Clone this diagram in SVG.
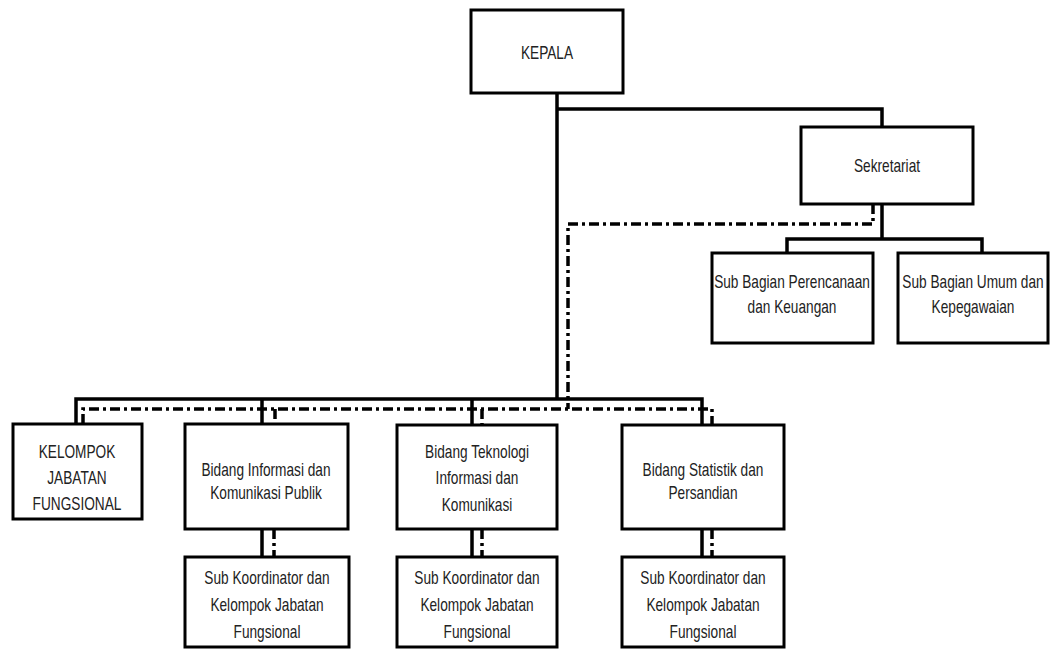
<svg xmlns="http://www.w3.org/2000/svg" width="1055" height="649" viewBox="0 0 1055 649">
<style>
.box{fill:#fff;stroke:#000;stroke-width:3}
.ln{fill:none;stroke:#000;stroke-width:3.5;stroke-linejoin:miter}
.dd{fill:none;stroke:#000;stroke-width:3.5;stroke-dasharray:10 4 3 4}
text{font-family:"Liberation Sans",Arial,sans-serif;font-size:18px;fill:#222;text-anchor:middle}
</style>
<rect width="1055" height="649" fill="#fff"/>
<g id="connectors">
<path class="ln" d="M557 93V399M557 109H882V127M76 424V399H702V425M262 399V424M472 399V425M882 204V239M787 253V239H982V253M262 529V557M472 529V557M702 529V557"/>
<path class="dd" d="M873 204V224H568V409M83 424V409H712V425M275 409V424M482 409V425M274 529V557M482 529V557M712 529V557"/>
</g>
<g id="kepala"><rect class="box" x="471" y="10" width="152" height="83"/><text transform="translate(547 59) scale(0.76 1)">KEPALA</text></g>
<g id="sekretariat"><rect class="box" x="801" y="127" width="172" height="77"/><text transform="translate(887 172) scale(0.76 1)">Sekretariat</text></g>
<g id="subbag-perencanaan"><rect class="box" x="712" y="253" width="161" height="90"/><text transform="translate(792 288) scale(0.76 1)">Sub Bagian Perencanaan</text><text transform="translate(792 313) scale(0.76 1)">dan Keuangan</text></g>
<g id="subbag-umum"><rect class="box" x="898" y="253" width="150" height="90"/><text transform="translate(973 288) scale(0.76 1)">Sub Bagian Umum dan</text><text transform="translate(973 313) scale(0.76 1)">Kepegawaian</text></g>
<g id="kelompok"><rect class="box" x="13" y="424" width="129" height="95"/><text transform="translate(77 458) scale(0.76 1)">KELOMPOK</text><text transform="translate(77 484) scale(0.76 1)">JABATAN</text><text transform="translate(77 510) scale(0.76 1)">FUNGSIONAL</text></g>
<g id="bidang-informasi"><rect class="box" x="185" y="424" width="163" height="105"/><text transform="translate(266 476) scale(0.76 1)">Bidang Informasi dan</text><text transform="translate(266 499) scale(0.76 1)">Komunikasi Publik</text></g>
<g id="bidang-teknologi"><rect class="box" x="397" y="425" width="160" height="104"/><text transform="translate(477 458) scale(0.76 1)">Bidang Teknologi</text><text transform="translate(477 484) scale(0.76 1)">Informasi dan</text><text transform="translate(477 511) scale(0.76 1)">Komunikasi</text></g>
<g id="bidang-statistik"><rect class="box" x="622" y="425" width="162" height="104"/><text transform="translate(703 476) scale(0.76 1)">Bidang Statistik dan</text><text transform="translate(703 499) scale(0.76 1)">Persandian</text></g>
<g id="subkoord-1"><rect class="box" x="185" y="557" width="164" height="90"/><text transform="translate(267 584) scale(0.76 1)">Sub Koordinator dan</text><text transform="translate(267 611) scale(0.76 1)">Kelompok Jabatan</text><text transform="translate(267 638) scale(0.76 1)">Fungsional</text></g>
<g id="subkoord-2"><rect class="box" x="397" y="557" width="160" height="90"/><text transform="translate(477 584) scale(0.76 1)">Sub Koordinator dan</text><text transform="translate(477 611) scale(0.76 1)">Kelompok Jabatan</text><text transform="translate(477 638) scale(0.76 1)">Fungsional</text></g>
<g id="subkoord-3"><rect class="box" x="622" y="557" width="162" height="90"/><text transform="translate(703 584) scale(0.76 1)">Sub Koordinator dan</text><text transform="translate(703 611) scale(0.76 1)">Kelompok Jabatan</text><text transform="translate(703 638) scale(0.76 1)">Fungsional</text></g>
</svg>
